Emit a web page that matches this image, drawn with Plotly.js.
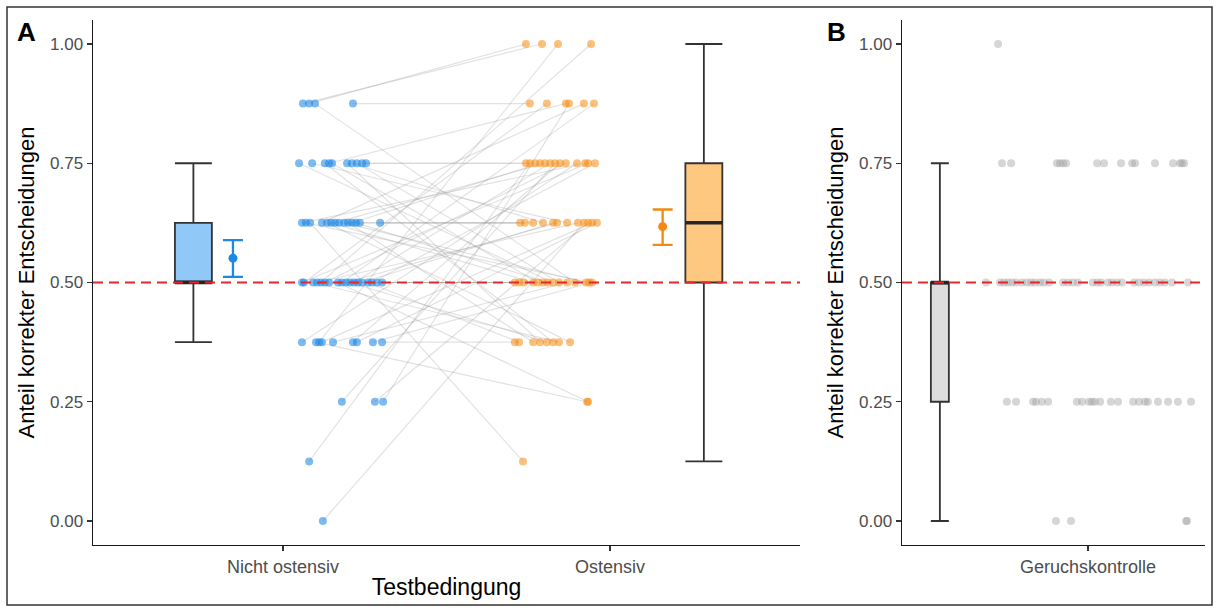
<!DOCTYPE html>
<html>
<head>
<meta charset="utf-8">
<script src="https://cdn.plot.ly/plotly-3.0.1.min.js"></script>
<style>
  html, body { margin: 0; padding: 0; background: #fff; }
  #chart { width: 1219px; height: 611px; }
</style>
</head>
<body>
<div id="chart"></div>
<script>
// ---------- DATA ----------
const categoriesA = ["Nicht ostensiv", "Ostensiv"];
const categoriesB = ["Geruchskontrolle"];
const yTickVals = [0, 0.25, 0.5, 0.75, 1];
const yTickText = ["0.00", "0.25", "0.50", "0.75", "1.00"];
const chanceLevel = 0.5;

// paired subjects: Nicht ostensiv value -> Ostensiv value
const nichtY = [0.875,0.875,0.875,0.875,
  0.75,0.75,0.75,0.75,0.75,0.75,0.75,0.75,0.75,0.75,
  0.625,0.625,0.625,0.625,0.625,0.625,0.625,0.625,0.625,0.625,0.625,0.625,0.625,0.625,
  0.5,0.5,0.5,0.5,0.5,0.5,0.5,0.5,0.5,0.5,0.5,0.5,0.5,0.5,0.5,0.5,0.5,0.5,
  0.375,0.375,0.375,0.375,0.375,0.375,0.375,0.375,0.375,
  0.25,0.25,0.25,
  0.125,
  0];
const nichtJitter = [0.061,0.080,0.098,0.214,
  0.049,0.089,0.128,0.141,0.150,0.196,0.211,0.226,0.242,0.254,
  0.058,0.070,0.083,0.119,0.135,0.147,0.159,0.171,0.187,0.199,0.211,0.223,0.235,0.297,
  0.058,0.064,0.092,0.104,0.116,0.128,0.141,0.168,0.180,0.193,0.205,0.217,0.229,0.242,0.260,0.272,0.287,0.303,
  0.058,0.101,0.110,0.119,0.153,0.214,0.226,0.275,0.303,
  0.180,0.281,0.306,
  0.080,
  0.122];
const ostY = [1,1,0.5,0.875,
  0.5,0.625,0.375,0.875,0.5,0.375,0.625,0.5,0.75,0.75,
  0.75,0.5,0.125,0.875,0.375,0.5,0.75,0.625,0.5,0.375,0.75,0.5,0.625,0.625,
  0.75,0.875,0.375,0.625,1,0.75,0.5,0.25,0.875,0.625,0.375,0.75,0.5,0.625,0.375,0.75,0.5,0.5,
  0.75,0.25,1,0.625,0.5,0.75,0.625,0.5,0.375,
  0.75,0.625,0.875,
  0.75,
  0.625];
const ostJitter = [-0.208,-0.257,-0.107,-0.245,
  -0.174,-0.131,-0.174,-0.135,-0.220,-0.214,-0.205,-0.156,-0.229,-0.257,
  -0.076,-0.064,-0.266,-0.080,-0.122,-0.235,-0.199,-0.235,-0.073,-0.235,-0.214,-0.190,-0.260,-0.275,
  -0.067,-0.193,-0.156,-0.098,-0.058,-0.135,-0.278,-0.067,-0.049,-0.162,-0.193,-0.183,-0.205,-0.174,-0.278,-0.046,-0.263,-0.291,
  -0.101,-0.070,-0.159,-0.055,-0.131,-0.153,-0.040,-0.055,-0.291,
  -0.168,-0.067,-0.125,
  -0.245,
  -0.080];

// mean and 95% CI per condition
const condMean = [0.551, 0.617];
const condCiLow = [0.512, 0.579];
const condCiHigh = [0.589, 0.653];

// panel B: smell control
const geruchY = [1,
  0.75,0.75,0.75,0.75,0.75,0.75,0.75,0.75,0.75,0.75,0.75,0.75,0.75,0.75,0.75,0.75,
  0.5,0.5,0.5,0.5,0.5,0.5,0.5,0.5,0.5,0.5,0.5,0.5,0.5,0.5,0.5,0.5,0.5,0.5,0.5,0.5,0.5,0.5,0.5,0.5,0.5,0.5,0.5,0.5,0.5,0.5,0.5,0.5,0.5,
  0.25,0.25,0.25,0.25,0.25,0.25,0.25,0.25,0.25,0.25,0.25,0.25,0.25,0.25,0.25,0.25,0.25,0.25,0.25,0.25,0.25,0.25,
  0,0,0,0];
const geruchJitter = [-0.275,
  -0.263,-0.235,-0.095,-0.086,-0.076,-0.067,0.028,0.049,0.101,0.135,0.144,0.205,0.260,0.281,0.287,0.294,
  -0.312,-0.269,-0.257,-0.245,-0.232,-0.220,-0.202,-0.187,-0.174,-0.162,-0.147,-0.135,-0.119,-0.076,-0.061,-0.046,-0.031,0.015,0.028,0.040,0.061,0.073,0.089,0.104,0.141,0.156,0.171,0.187,0.205,0.220,0.235,0.257,0.306,
  -0.248,-0.220,-0.168,-0.159,-0.141,-0.122,-0.034,-0.018,0.003,0.012,0.021,0.037,0.070,0.092,0.138,0.156,0.174,0.183,0.214,0.245,0.275,0.315,
  -0.098,-0.052,0.300,0.303];

// ---------- LAYOUT CONSTANTS ----------
const catPosA = [1, 2];
const catPosB = 1;
const boxPosA = [0.726, 2.287];
const boxWidthA = 0.113;
const meanPosA = [0.847, 2.161];
const boxPosB = 0.547;
const boxWidthB = 0.055;

const colBluePt = "rgba(30,136,229,0.58)";
const colOrangePt = "rgba(245,140,20,0.55)";
const colGrayPt = "rgba(165,165,165,0.45)";
const colBlueBox = "#90C8F8";
const colOrangeBox = "#FFC880";
const colGrayBox = "#DDDDDD";
const colBlueMean = "#1E88E5";
const colOrangeMean = "#F08A14";
const FONT = "Liberation Sans, Arial, Helvetica, sans-serif";

// ---------- STATS ----------
function quantile7(arr, p) {
  const s = arr.slice().sort((a, b) => a - b);
  const h = (s.length - 1) * p;
  const lo = Math.floor(h);
  const hi = Math.min(lo + 1, s.length - 1);
  return s[lo] + (h - lo) * (s[hi] - s[lo]);
}
function boxStats(arr) {
  const q1 = quantile7(arr, 0.25), med = quantile7(arr, 0.5), q3 = quantile7(arr, 0.75);
  const iqr = q3 - q1;
  const up = Math.max(...arr.filter(v => v <= q3 + 1.5 * iqr));
  const lo = Math.min(...arr.filter(v => v >= q1 - 1.5 * iqr));
  return { q1, med, q3, lo, up };
}

const stN = boxStats(nichtY), stO = boxStats(ostY), stG = boxStats(geruchY);

// ---------- TRACES ----------
const traces = [];

// paired lines
const lx = [], ly = [];
for (let i = 0; i < nichtY.length; i++) {
  lx.push(catPosA[0] + nichtJitter[i], catPosA[1] + ostJitter[i], null);
  ly.push(nichtY[i], ostY[i], null);
}
traces.push({ type: "scatter", mode: "lines", x: lx, y: ly, xaxis: "x", yaxis: "y",
  line: { color: "rgba(150,150,150,0.28)", width: 1.2 }, hoverinfo: "skip", showlegend: false });

// points A
traces.push({ type: "scatter", mode: "markers", x: nichtJitter.map(j => catPosA[0] + j), y: nichtY,
  xaxis: "x", yaxis: "y", marker: { color: colBluePt, size: 8, line: { width: 0 } }, showlegend: false });
traces.push({ type: "scatter", mode: "markers", x: ostJitter.map(j => catPosA[1] + j), y: ostY,
  xaxis: "x", yaxis: "y", marker: { color: colOrangePt, size: 8, line: { width: 0 } }, showlegend: false });

// boxes A
function boxTrace(pos, w, st, fill, xa, ya) {
  return { type: "box", x: [pos], q1: [st.q1], median: [st.med], q3: [st.q3],
    lowerfence: [st.lo], upperfence: [st.up], width: w, whiskerwidth: 1,
    fillcolor: fill, line: { color: "#333333", width: 1.8 }, boxpoints: false,
    xaxis: xa, yaxis: ya, showlegend: false, hoverinfo: "skip" };
}
function medianTrace(pos, w, st, xa, ya) {
  return { type: "scatter", mode: "lines", x: [pos - w / 2, pos + w / 2], y: [st.med, st.med],
    line: { color: "#262626", width: 3.5 }, xaxis: xa, yaxis: ya, showlegend: false, hoverinfo: "skip" };
}
traces.push(boxTrace(boxPosA[0], boxWidthA, stN, colBlueBox, "x", "y"));
traces.push(medianTrace(boxPosA[0], boxWidthA, stN, "x", "y"));
traces.push(boxTrace(boxPosA[1], boxWidthA, stO, colOrangeBox, "x", "y"));
traces.push(medianTrace(boxPosA[1], boxWidthA, stO, "x", "y"));

// means with CI
const meanCols = [colBlueMean, colOrangeMean];
for (let k = 0; k < 2; k++) {
  traces.push({ type: "scatter", mode: "markers", x: [meanPosA[k]], y: [condMean[k]],
    xaxis: "x", yaxis: "y", marker: { color: meanCols[k], size: 9 },
    error_y: { type: "data", symmetric: false, array: [condCiHigh[k] - condMean[k]],
      arrayminus: [condMean[k] - condCiLow[k]], color: meanCols[k], thickness: 2.3, width: 10 },
    showlegend: false });
}

// panel B
traces.push({ type: "scatter", mode: "markers", x: geruchJitter.map(j => catPosB + j), y: geruchY,
  xaxis: "x2", yaxis: "y2", marker: { color: colGrayPt, size: 8, line: { width: 0 } }, showlegend: false });
traces.push(boxTrace(boxPosB, boxWidthB, stG, colGrayBox, "x2", "y2"));
traces.push(medianTrace(boxPosB, boxWidthB, stG, "x2", "y2"));

// ---------- LAYOUT ----------
const W = 1219, H = 611, mL = 93, mR = 14, mT = 20, mB = 66;
const pw = W - mL - mR, ph = H - mT - mB;
const px2paperX = p => (p - mL) / pw;
const px2paperY = p => (H - mB - p) / ph;

const yRange = [-0.0503, 1.0503];
const axisCommon = {
  showline: true, linecolor: "#1a1a1a", linewidth: 1.4, mirror: false,
  ticks: "outside", ticklen: 5, tickwidth: 1.3, tickcolor: "#333333",
  showgrid: false, zeroline: false, fixedrange: true,
  tickfont: { family: FONT, size: 17, color: "#4D4D4D" }
};

const layout = {
  width: W, height: H,
  margin: { l: mL, r: mR, t: mT, b: mB, pad: 0 },
  paper_bgcolor: "#ffffff", plot_bgcolor: "#ffffff",
  font: { family: FONT, color: "#000" },
  showlegend: false,
  boxmode: "overlay",
  xaxis: Object.assign({}, axisCommon, {
    domain: [0, px2paperX(800)], range: [0.419, 2.581], anchor: "y",
    tickmode: "array", tickvals: catPosA, ticktext: categoriesA,
    tickfont: { family: FONT, size: 18, color: "#4D4D4D" },
    title: { text: "Testbedingung", font: { family: FONT, size: 23, color: "#000" }, standoff: 3 }
  }),
  yaxis: Object.assign({}, axisCommon, {
    domain: [0, 1], range: yRange, anchor: "x",
    tickmode: "array", tickvals: yTickVals, ticktext: yTickText,
    title: { text: "Anteil korrekter Entscheidungen", font: { family: FONT, size: 22, color: "#000" }, standoff: 9 }
  }),
  xaxis2: Object.assign({}, axisCommon, {
    domain: [px2paperX(902), 1], range: [0.4312, 1.3578], anchor: "y2",
    tickmode: "array", tickvals: [catPosB], ticktext: categoriesB,
    tickfont: { family: FONT, size: 18, color: "#4D4D4D" }
  }),
  yaxis2: Object.assign({}, axisCommon, {
    domain: [0, 1], range: yRange, anchor: "x2",
    tickmode: "array", tickvals: yTickVals, ticktext: yTickText,
    title: { text: "Anteil korrekter Entscheidungen", font: { family: FONT, size: 22, color: "#000" }, standoff: 9 }
  }),
  shapes: [
    { type: "line", xref: "x domain", yref: "y", x0: 0, x1: 1, y0: chanceLevel, y1: chanceLevel,
      layer: "above", line: { color: "#E8262D", width: 2, dash: "10px,6px" } },
    { type: "line", xref: "x2 domain", yref: "y2", x0: 0, x1: 1, y0: chanceLevel, y1: chanceLevel,
      layer: "above", line: { color: "#E8262D", width: 2, dash: "10px,6px" } },
    { type: "rect", xref: "paper", yref: "paper",
      x0: px2paperX(7), x1: px2paperX(1212), y0: px2paperY(605), y1: px2paperY(7),
      layer: "above", line: { color: "#333333", width: 1.5 }, fillcolor: "rgba(0,0,0,0)" }
  ],
  annotations: [
    { text: "<b>A</b>", xref: "paper", yref: "paper", x: px2paperX(26), y: px2paperY(32),
      xanchor: "center", yanchor: "middle", showarrow: false, font: { family: FONT, size: 26, color: "#000" } },
    { text: "<b>B</b>", xref: "paper", yref: "paper", x: px2paperX(837), y: px2paperY(32),
      xanchor: "center", yanchor: "middle", showarrow: false, font: { family: FONT, size: 26, color: "#000" } }
  ]
};

Plotly.newPlot("chart", traces, layout, { staticPlot: true, displayModeBar: false });
</script>
</body>
</html>
